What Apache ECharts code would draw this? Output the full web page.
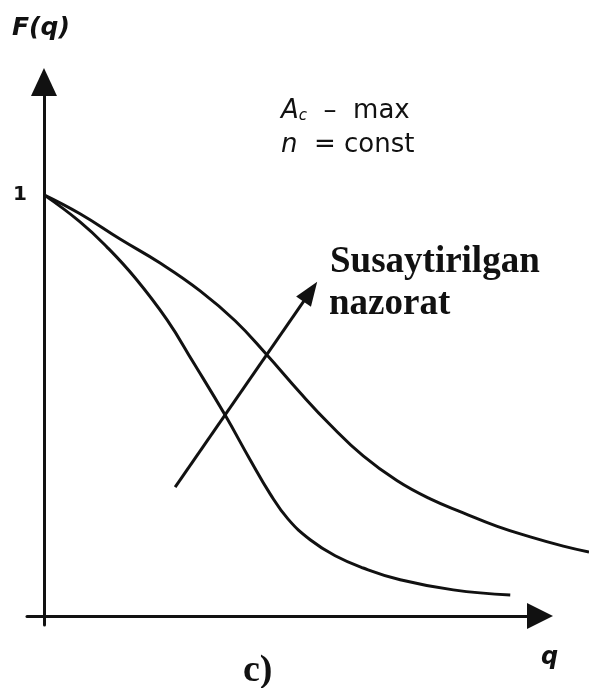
<!DOCTYPE html>
<html>
<head>
<meta charset="utf-8">
<script src="https://cdn.jsdelivr.net/npm/echarts@6/dist/echarts.min.js"></script>
<style>
  html, body { margin: 0; padding: 0; background: #fff; }
  #chart { width: 589px; height: 688px; }
</style>
</head>
<body>
<div id="chart"></div>
<script>
// Distribution curves F(q) for two levels of control
const qOuter = [0, 0.706, 1.49, 2.275, 3.059, 3.745, 4.353, 5.02, 5.608, 6.255, 6.922, 7.569, 8.216, 8.882, 9.529, 10.176, 10.68];
const fOuter = [1.0, 0.955, 0.895, 0.838, 0.772, 0.701, 0.622, 0.530, 0.454, 0.380, 0.321, 0.278, 0.245, 0.213, 0.188, 0.166, 0.152];

const qInner = [0, 0.706, 1.235, 1.784, 2.412, 2.922, 3.549, 4.039, 4.431, 4.784, 5.216, 5.706, 6.255, 6.98, 8.02, 9.137];
const fInner = [1.0, 0.936, 0.876, 0.803, 0.703, 0.603, 0.477, 0.371, 0.290, 0.230, 0.181, 0.143, 0.114, 0.086, 0.062, 0.050];

// Direction arrow: from weaker to stronger control
const arrowFrom = [2.57, 0.306];
const arrowTo = [5.22, 0.770];

// Tick labels on the F axis
const fTicks = [1];

const ink = '#111';
const zip = (xs, ys) => xs.map((x, i) => [x, ys[i]]);

const xMin = -0.333;
const yMin = -0.0214;
const yMax = 1.268;

const chart = echarts.init(document.getElementById('chart'));
chart.setOption({
  backgroundColor: '#fff',
  animation: false,
  grid: [
    // axes frame (arrow tips end here)
    { left: 27, right: 49, top: 82, bottom: 63, outerBoundsMode: 'none', containLabel: false },
    // same scale, wider, so the curves can run past the q arrow
    { left: 27, right: 0, top: 82, bottom: 63, outerBoundsMode: 'none', containLabel: false }
  ],
  xAxis: [
    {
      type: 'value', gridIndex: 0,
      min: xMin, max: 9.725,
      axisLine: {
        onZero: true,
        lineStyle: { color: ink, width: 3 },
        symbol: ['none', 'triangle'],
        symbolSize: [26, 26]
      },
      axisTick: { show: false },
      axisLabel: { show: false },
      splitLine: { show: false }
    },
    {
      type: 'value', gridIndex: 1,
      min: xMin, max: 10.68,
      show: false
    }
  ],
  yAxis: [
    {
      type: 'value', gridIndex: 0,
      min: yMin, max: yMax,
      axisLine: {
        onZero: true,
        lineStyle: { color: ink, width: 3 },
        symbol: ['none', 'triangle'],
        symbolSize: [26, 28]
      },
      axisTick: { show: false },
      axisLabel: {
        customValues: fTicks,
        formatter: v => String(v),
        color: ink,
        fontFamily: '"DejaVu Sans", sans-serif',
        fontWeight: 'bold',
        fontSize: 20,
        margin: 0
      },
      splitLine: { show: false }
    },
    {
      type: 'value', gridIndex: 1,
      min: yMin, max: yMax,
      show: false
    }
  ],
  series: [
    {
      type: 'line',
      xAxisIndex: 1, yAxisIndex: 1,
      data: zip(qOuter, fOuter),
      smooth: 0.45,
      symbol: 'none',
      clip: false,
      lineStyle: { color: ink, width: 3 },
      markLine: {
        silent: true,
        symbol: ['none', 'triangle'],
        symbolSize: [18, 24],
        label: { show: false },
        lineStyle: { color: ink, width: 3, type: 'solid' },
        data: [[{ coord: arrowFrom }, { coord: arrowTo }]]
      }
    },
    {
      type: 'line',
      xAxisIndex: 1, yAxisIndex: 1,
      data: zip(qInner, fInner),
      smooth: 0.45,
      symbol: 'none',
      clip: false,
      lineStyle: { color: ink, width: 3 }
    }
  ],
  graphic: [
    {
      type: 'text', left: 12, top: 16,
      style: { text: 'F(q)', fill: ink, font: 'italic bold 25px "DejaVu Sans", sans-serif' }
    },
    {
      type: 'text', left: 281, top: 98,
      style: {
        text: '{a|A}{s|c}{t|  –  max}',
        rich: {
          a: { fill: ink, font: 'italic 26px "DejaVu Sans", sans-serif', lineHeight: 26 },
          s: { fill: ink, font: 'italic 15px "DejaVu Sans", sans-serif', lineHeight: 26, verticalAlign: 'bottom' },
          t: { fill: ink, font: '26px "DejaVu Sans", sans-serif', lineHeight: 26 }
        }
      }
    },
    {
      type: 'text', left: 281, top: 132,
      style: {
        text: '{n|n}{t|  = const}',
        rich: {
          n: { fill: ink, font: 'italic 26px "DejaVu Sans", sans-serif', lineHeight: 26 },
          t: { fill: ink, font: '26px "DejaVu Sans", sans-serif', lineHeight: 26 }
        }
      }
    },
    {
      type: 'text', left: 330, top: 244,
      style: { text: 'Susaytirilgan', fill: ink, font: 'bold 37px "Liberation Serif", "Times New Roman", serif' }
    },
    {
      type: 'text', left: 329, top: 286,
      style: { text: 'nazorat', fill: ink, font: 'bold 37px "Liberation Serif", "Times New Roman", serif' }
    },
    {
      type: 'text', left: 243, top: 652,
      style: { text: 'c)', fill: ink, font: 'bold 38px "Liberation Serif", "Times New Roman", serif' }
    },
    {
      type: 'text', left: 541, top: 646,
      style: { text: 'q', fill: ink, font: 'italic bold 24px "DejaVu Sans", sans-serif' }
    }
  ]
});
</script>
</body>
</html>
